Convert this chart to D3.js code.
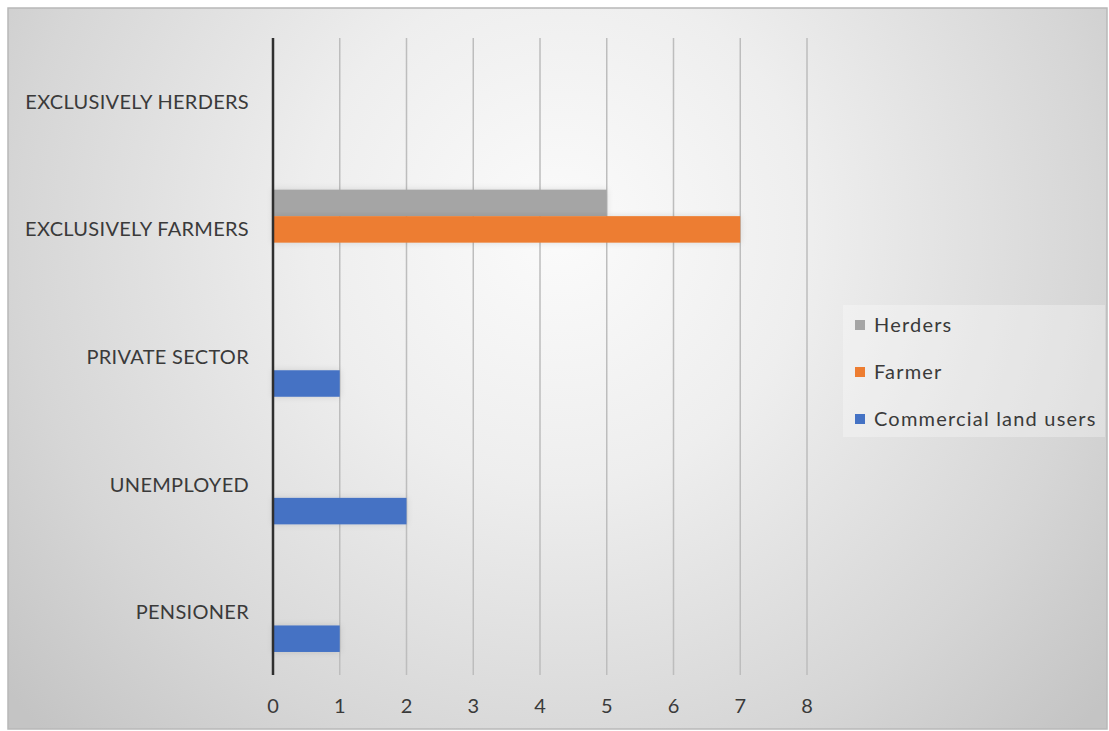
<!DOCTYPE html>
<html>
<head>
<meta charset="utf-8">
<script src="https://cdn.jsdelivr.net/npm/d3@7"></script>
<style>
  html, body { margin: 0; padding: 0; background: #fff; }
  text { font-family: Lato, "Open Sans", sans-serif; fill: #3a3a3a; }
</style>
</head>
<body>
<div id="chart"></div>
<script>
// Categories, top to bottom
const categories = ['EXCLUSIVELY HERDERS', 'EXCLUSIVELY FARMERS', 'PRIVATE SECTOR', 'UNEMPLOYED', 'PENSIONER'];
// Series (legend order = bar order inside each group, top to bottom)
const seriesNames = ['Herders', 'Farmer', 'Commercial land users'];
const herdersValues = [null, 5, null, null, null];
const farmerValues = [null, 7, null, null, null];
const commercialValues = [null, null, 1, 2, 1];
const xTicks = [0, 1, 2, 3, 4, 5, 6, 7, 8];

const seriesColors = ['#a5a5a5', '#ed7d31', '#4472c4'];
const seriesValues = [herdersValues, farmerValues, commercialValues];

function renderChart() {
    const width = 1109;
    const height = 731;

    const svg = d3.select('#chart')
        .append('svg')
        .attr('width', width)
        .attr('height', height);

    const defs = svg.append('defs');

    // Soft radial background like the Office style
    const grad = defs.append('radialGradient')
        .attr('id', 'bg')
        .attr('gradientUnits', 'userSpaceOnUse')
        .attr('cx', 560).attr('cy', 230)
        .attr('r', 720);
    grad.append('stop').attr('offset', '0%').attr('stop-color', '#fbfbfb');
    grad.append('stop').attr('offset', '35%').attr('stop-color', '#eeeeee');
    grad.append('stop').attr('offset', '75%').attr('stop-color', '#d6d6d6');
    grad.append('stop').attr('offset', '100%').attr('stop-color', '#c4c4c4');

    const shadow = defs.append('filter')
        .attr('id', 'glow')
        .attr('x', '-10%').attr('y', '-40%')
        .attr('width', '120%').attr('height', '180%');
    shadow.append('feDropShadow')
        .attr('dx', 0).attr('dy', 0)
        .attr('stdDeviation', 3)
        .attr('flood-color', '#000')
        .attr('flood-opacity', 0.12);

    svg.append('rect')
        .attr('x', 8).attr('y', 8)
        .attr('width', 1099).attr('height', 721)
        .attr('fill', 'url(#bg)')
        .attr('stroke', '#b8b8b8')
        .attr('stroke-width', 1.5);

    const x = d3.scaleLinear()
        .domain([0, 8])
        .range([273, 807]);

    const y0 = d3.scaleBand()
        .domain(categories)
        .range([38, 676])
        .padding(0);

    const y1 = d3.scaleBand()
        .domain(seriesNames)
        .range([0, y0.bandwidth()])
        .paddingInner(0)
        .paddingOuter(0.907);

    // Vertical gridlines
    svg.append('g')
        .selectAll('line')
        .data(xTicks.filter(d => d > 0))
        .join('line')
        .attr('x1', d => x(d)).attr('x2', d => x(d))
        .attr('y1', 38).attr('y2', 675)
        .attr('stroke', '#bdbdbd')
        .attr('stroke-width', 1.5);

    // Bars
    const rows = [];
    categories.forEach((c, i) => {
        seriesNames.forEach((s, j) => {
            const v = seriesValues[j][i];
            if (v != null) rows.push({ category: c, series: s, value: v, color: seriesColors[j] });
        });
    });

    svg.append('g')
        .selectAll('rect')
        .data(rows)
        .join('rect')
        .attr('x', x(0))
        .attr('y', d => y0(d.category) + y1(d.series))
        .attr('width', d => x(d.value) - x(0))
        .attr('height', y1.bandwidth())
        .attr('fill', d => d.color)
        .attr('filter', 'url(#glow)');

    // Value axis line at zero
    svg.append('line')
        .attr('x1', x(0)).attr('x2', x(0))
        .attr('y1', 38).attr('y2', 675)
        .attr('stroke', '#2f2f2f')
        .attr('stroke-width', 2.5);

    // Category labels
    svg.append('g')
        .selectAll('text')
        .data(categories)
        .join('text')
        .attr('x', 249)
        .attr('y', d => y0(d) + y0.bandwidth() / 2)
        .attr('dy', '0.35em')
        .attr('text-anchor', 'end')
        .style('font-size', '20px')
        .style('letter-spacing', '0.3px')
        .text(d => d);

    // Tick labels
    svg.append('g')
        .selectAll('text')
        .data(xTicks)
        .join('text')
        .attr('x', d => x(d))
        .attr('y', 706)
        .attr('dy', '0.35em')
        .attr('text-anchor', 'middle')
        .style('font-size', '20px')
        .text(d => d);

    // Legend
    const legend = svg.append('g');
    legend.append('rect')
        .attr('x', 843).attr('y', 305)
        .attr('width', 262).attr('height', 132)
        .attr('fill', '#ffffff')
        .attr('opacity', 0.3);

    seriesNames.forEach((s, i) => {
        const cy = 325 + i * 47;
        legend.append('rect')
            .attr('x', 855).attr('y', cy - 5)
            .attr('width', 10).attr('height', 10)
            .attr('fill', seriesColors[i]);
        legend.append('text')
            .attr('x', 874)
            .attr('y', cy)
            .attr('dy', '0.35em')
            .style('font-size', '20px')
            .style('letter-spacing', '1.2px')
            .text(s);
    });
}

renderChart();
</script>
</body>
</html>
